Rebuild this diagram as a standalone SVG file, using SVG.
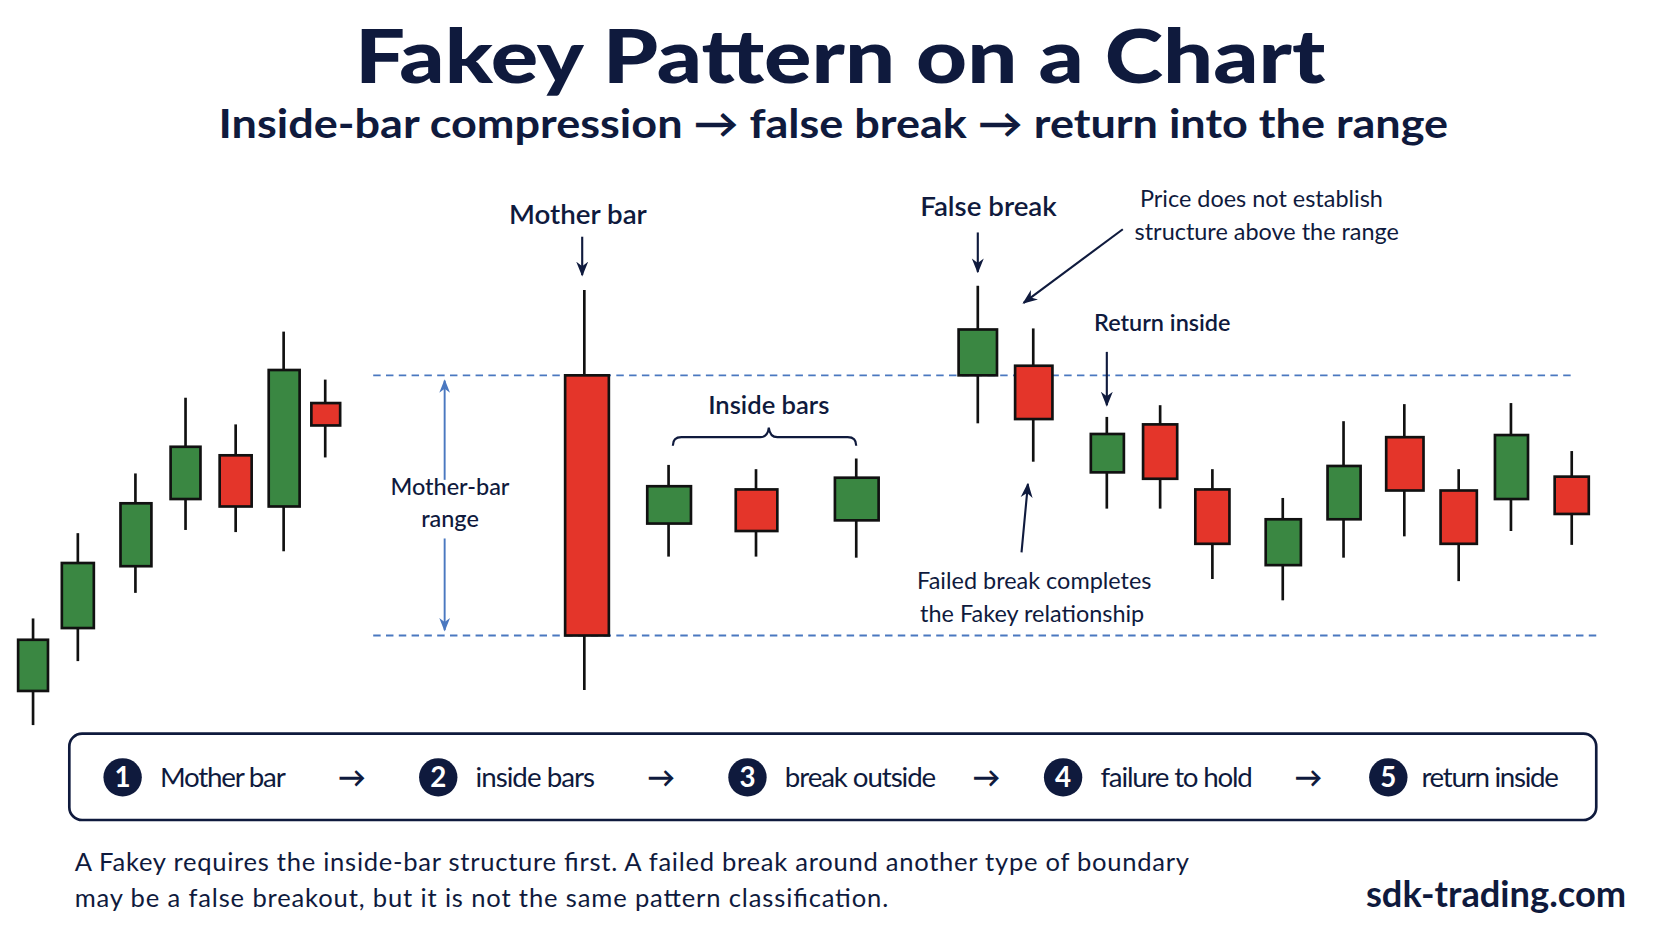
<svg xmlns="http://www.w3.org/2000/svg" width="1672" height="941" viewBox="0 0 1672 941">
<defs>
<style>
.t{font-family:Lato,"Open Sans","Liberation Sans",sans-serif;fill:#0f1a3d}
.g{fill:#3a8742;stroke:#111;stroke-width:2.5}
.r{fill:#e4352a;stroke:#111;stroke-width:2.5}
.w{stroke:#111;stroke-width:2.5}
.dash{stroke:#4a78c0;stroke-width:1.8;stroke-dasharray:7 5}
.ar{stroke:#0f1a3d;stroke-width:2;fill:none;marker-end:url(#ah)}
</style>
<marker id="ah" viewBox="0 0 10 10" refX="9" refY="5" markerWidth="7" markerHeight="7" orient="auto"><path d="M0,1 L10,5 L0,9 L3,5 Z" fill="#0f1a3d"/></marker>
<marker id="bh" viewBox="0 0 10 10" refX="9" refY="5" markerWidth="7" markerHeight="7" orient="auto"><path d="M0,1 L10,5 L0,9 L3,5 Z" fill="#4a78c0"/></marker>
</defs>
<rect width="1672" height="941" fill="#fff"/>
<g transform="scale(1.0663)">
<text class="t" x="333" y="78" font-size="70" font-weight="900" textLength="910" lengthAdjust="spacingAndGlyphs">Fakey Pattern on a Chart</text>
<text class="t" x="205" y="129" font-size="38" font-weight="700" textLength="1153" lengthAdjust="spacingAndGlyphs">Inside-bar compression → false break → return into the range</text>
<g id="range-lines">
<line class="dash" x1="350" y1="352" x2="1478" y2="352"/>
<line class="dash" x1="350" y1="596" x2="1502" y2="596"/>
</g>
<g id="candles">
<line class="w" x1="31" y1="580" x2="31" y2="680"/><rect class="g" x="17" y="600" width="28" height="48"/>
<line class="w" x1="73" y1="500" x2="73" y2="620"/><rect class="g" x="58" y="528" width="30" height="61"/>
<line class="w" x1="127" y1="444" x2="127" y2="556"/><rect class="g" x="113" y="472" width="29" height="59"/>
<line class="w" x1="174" y1="373" x2="174" y2="497"/><rect class="g" x="160" y="419" width="28" height="49"/>
<line class="w" x1="221" y1="398" x2="221" y2="499"/><rect class="r" x="206" y="427" width="30" height="48"/>
<line class="w" x1="266" y1="311" x2="266" y2="517"/><rect class="g" x="252" y="347" width="29" height="128"/>
<line class="w" x1="305" y1="356" x2="305" y2="429"/><rect class="r" x="292" y="378" width="27" height="21"/>
<g id="mother-bar"><line class="w" x1="548" y1="272" x2="548" y2="647"/><rect class="r" x="530" y="352" width="41" height="244"/></g>
<line class="w" x1="627" y1="436" x2="627" y2="522"/><rect class="g" x="607" y="456" width="41" height="35"/>
<line class="w" x1="709" y1="440" x2="709" y2="522"/><rect class="r" x="690" y="459" width="39" height="39"/>
<line class="w" x1="803" y1="430" x2="803" y2="523"/><rect class="g" x="783" y="448" width="41" height="40"/>
<line class="w" x1="917" y1="268" x2="917" y2="397"/><rect class="g" x="899" y="309" width="36" height="43"/>
<line class="w" x1="969" y1="308" x2="969" y2="433"/><rect class="r" x="952" y="343" width="35" height="50"/>
<line class="w" x1="1038" y1="391" x2="1038" y2="477"/><rect class="g" x="1023" y="407" width="31" height="36"/>
<line class="w" x1="1088" y1="380" x2="1088" y2="477"/><rect class="r" x="1072" y="398" width="32" height="51"/>
<line class="w" x1="1137" y1="440" x2="1137" y2="543"/><rect class="r" x="1121" y="459" width="32" height="51"/>
<line class="w" x1="1203" y1="467" x2="1203" y2="563"/><rect class="g" x="1187" y="487" width="33" height="43"/>
<line class="w" x1="1260" y1="395" x2="1260" y2="523"/><rect class="g" x="1245" y="437" width="31" height="50"/>
<line class="w" x1="1317" y1="379" x2="1317" y2="503"/><rect class="r" x="1300" y="410" width="35" height="50"/>
<line class="w" x1="1368" y1="440" x2="1368" y2="545"/><rect class="r" x="1351" y="460" width="34" height="50"/>
<line class="w" x1="1417" y1="378" x2="1417" y2="498"/><rect class="g" x="1402" y="408" width="31" height="60"/>
<line class="w" x1="1474" y1="423" x2="1474" y2="511"/><rect class="r" x="1458" y="447" width="32" height="35"/>
</g>
<g id="connectors">
<line class="ar" x1="546" y1="222" x2="546" y2="258"/>
<line class="ar" x1="917" y1="218" x2="917" y2="255"/>
<line class="ar" x1="1053" y1="215" x2="960" y2="284"/>
<line class="ar" x1="1038" y1="330" x2="1038" y2="380"/>
<line class="ar" x1="958" y1="518" x2="964" y2="454"/>
<line x1="417" y1="450" x2="417" y2="357" stroke="#4a78c0" stroke-width="1.8" marker-end="url(#bh)"/>
<line x1="417" y1="505" x2="417" y2="591" stroke="#4a78c0" stroke-width="1.8" marker-end="url(#bh)"/>
<path d="M631,418 Q631,410 639,410 L713,410 Q720,410 721,401 Q722,410 729,410 L795,410 Q803,410 803,418" fill="none" stroke="#0f1a3d" stroke-width="2"/>
</g>
<g id="labels" class="t">
<text class="t" x="542" y="210" font-size="26" font-weight="600" text-anchor="middle">Mother bar</text>
<text class="t" x="422" y="464" font-size="22" font-weight="500" text-anchor="middle">Mother-bar</text>
<text class="t" x="422" y="494" font-size="22" font-weight="500" text-anchor="middle">range</text>
<text class="t" x="721" y="388" font-size="24" font-weight="600" text-anchor="middle">Inside bars</text>
<text class="t" x="927" y="203" font-size="26" font-weight="600" text-anchor="middle">False break</text>
<text class="t" x="1183" y="194" font-size="22" text-anchor="middle">Price does not establish</text>
<text class="t" x="1188" y="225" font-size="22" text-anchor="middle">structure above the range</text>
<text class="t" x="1090" y="310" font-size="22" font-weight="600" text-anchor="middle">Return inside</text>
<text class="t" x="970" y="552" font-size="22" text-anchor="middle">Failed break completes</text>
<text class="t" x="968" y="583" font-size="22" text-anchor="middle">the Fakey relationship</text>
</g>
<g id="steps">
<rect x="65" y="688" width="1432" height="81" rx="12" fill="#fff" stroke="#0f1a3d" stroke-width="2.5"/>
<g font-family="Lato,'Open Sans',sans-serif" font-size="26">
<circle cx="115" cy="729" r="18" fill="#0f1a3d"/><text x="115" y="738" fill="#fff" font-weight="700" text-anchor="middle">1</text>
<text class="t" x="150" y="738" textLength="118">Mother bar</text><text class="t" x="330" y="738" font-weight="700" text-anchor="middle">→</text>
<circle cx="411" cy="729" r="18" fill="#0f1a3d"/><text x="411" y="738" fill="#fff" font-weight="700" text-anchor="middle">2</text>
<text class="t" x="446" y="738" textLength="112">inside bars</text><text class="t" x="620" y="738" font-weight="700" text-anchor="middle">→</text>
<circle cx="701" cy="729" r="18" fill="#0f1a3d"/><text x="701" y="738" fill="#fff" font-weight="700" text-anchor="middle">3</text>
<text class="t" x="736" y="738" textLength="142">break outside</text><text class="t" x="925" y="738" font-weight="700" text-anchor="middle">→</text>
<circle cx="997" cy="729" r="18" fill="#0f1a3d"/><text x="997" y="738" fill="#fff" font-weight="700" text-anchor="middle">4</text>
<text class="t" x="1032" y="738" textLength="143">failure to hold</text><text class="t" x="1227" y="738" font-weight="700" text-anchor="middle">→</text>
<circle cx="1302" cy="729" r="18" fill="#0f1a3d"/><text x="1302" y="738" fill="#fff" font-weight="700" text-anchor="middle">5</text>
<text class="t" x="1333" y="738" textLength="129">return inside</text>
</g>
</g>
<text class="t" x="70" y="817" font-size="24" textLength="1045">A Fakey requires the inside-bar structure first. A failed break around another type of boundary</text>
<text class="t" x="70" y="851" font-size="24" textLength="763">may be a false breakout, but it is not the same pattern classification.</text>
<text class="t" x="1525" y="851" font-size="34" font-weight="700" text-anchor="end">sdk-trading.com</text>
</g>
</svg>
